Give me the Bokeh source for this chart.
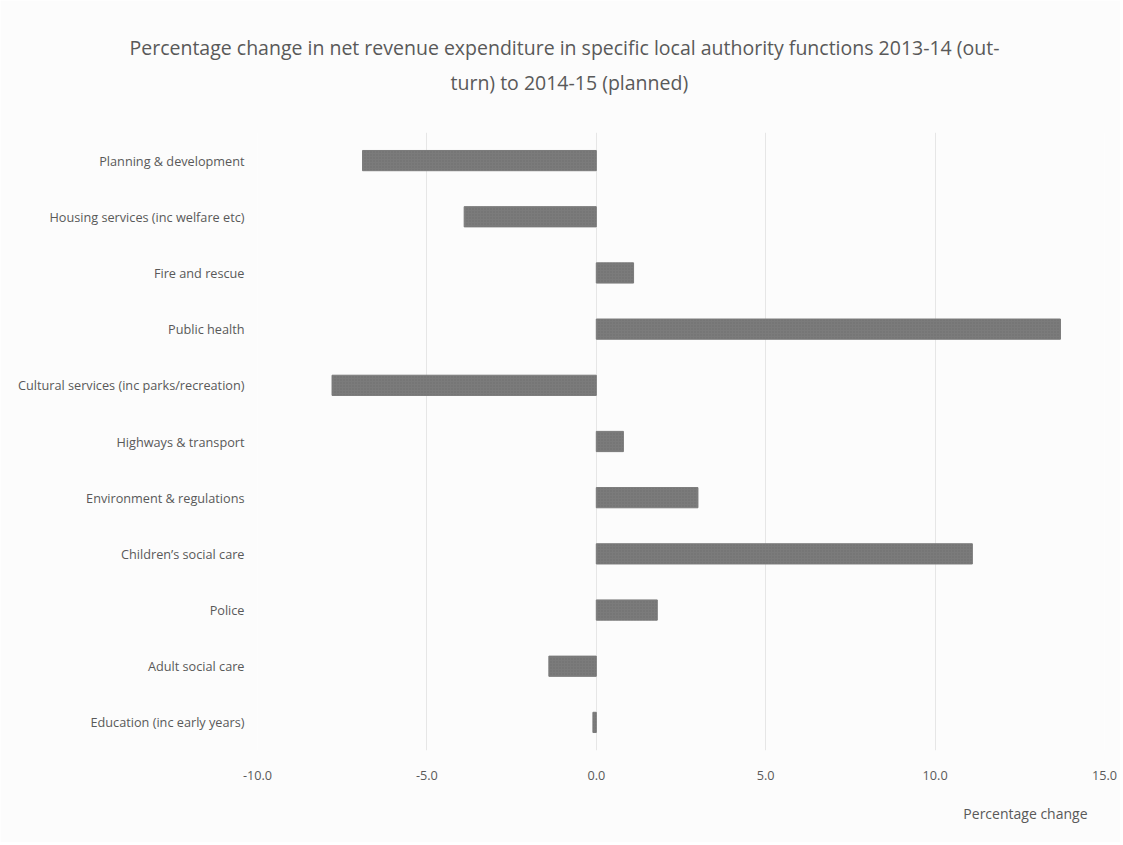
from bokeh.plotting import figure
from bokeh.models import FixedTicker, NumeralTickFormatter, FactorRange, Range1d, Title
from bokeh.embed import file_html
from bokeh.resources import INLINE

categories = [
    "Planning & development",
    "Housing services (inc welfare etc)",
    "Fire and rescue",
    "Public health",
    "Cultural services (inc parks/recreation)",
    "Highways & transport",
    "Environment & regulations",
    "Children\u2019s social care",
    "Police",
    "Adult social care",
    "Education (inc early years)",
]
values = [-6.9, -3.9, 1.1, 13.7, -7.8, 0.8, 3.0, 11.1, 1.8, -1.4, -0.1]
x_ticks = [-10, -5, 0, 5, 10, 15]

title_line1 = "Percentage change in net revenue expenditure in specific local authority functions 2013-14 (out-"
title_line2 = "turn) to 2014-15 (planned)"
x_label = "Percentage change"

factors = list(reversed(categories))
vals = list(reversed(values))

p = figure(width=1120, height=842, y_range=FactorRange(*factors),
           x_range=Range1d(-10, 15), output_backend="svg", toolbar_location=None,
           min_border_left=257, min_border_right=16, min_border_top=132, min_border_bottom=92)

p.hbar(y=factors, right=vals, left=0, height=0.36, fill_color="#7b7b7b",
       line_color="#7b7b7b", line_width=1,
       hatch_pattern="dot", hatch_color="#6a6a6a", hatch_scale=3, hatch_alpha=0.7)

TF = "Open Sans"
TS = "19.5px"
p.title.text = title_line1
p.title.align = "left"
p.title.offset = -128
p.title.text_font = TF
p.title.text_font_size = TS
p.title.text_font_style = "normal"
p.title.text_color = "#595959"
p.title.standoff = 8

# spacer between the frame and the second title line
p.add_layout(Title(text=" ", text_font_size="1px", standoff=32), "above")
p.add_layout(Title(text=title_line2, align="left", offset=193, text_font=TF,
                   text_font_size=TS, text_font_style="normal", text_color="#595959",
                   standoff=4), "above")

p.add_layout(Title(text=x_label, align="right", offset=17, text_font=TF,
                   text_font_size="14px", text_font_style="normal", text_color="#595959",
                   standoff=39), "below")

p.background_fill_color = "#fcfcfc"
p.border_fill_color = "#fcfcfc"
p.outline_line_color = None

p.xaxis.ticker = FixedTicker(ticks=x_ticks)
p.xaxis.formatter = NumeralTickFormatter(format="0.0")
for ax in (p.xaxis, p.yaxis):
    ax.axis_line_color = None
    ax.major_tick_line_color = None
    ax.minor_tick_line_color = None
    ax.major_label_text_font = TF
    ax.major_label_text_font_size = "12.7px"
    ax.major_label_text_color = "#595959"
p.xaxis.major_label_standoff = 14
p.yaxis.major_label_standoff = 7

p.xgrid.grid_line_color = "#e6e6e6"
p.ygrid.grid_line_color = None

open("out.html", "w").write(file_html(p, INLINE))
